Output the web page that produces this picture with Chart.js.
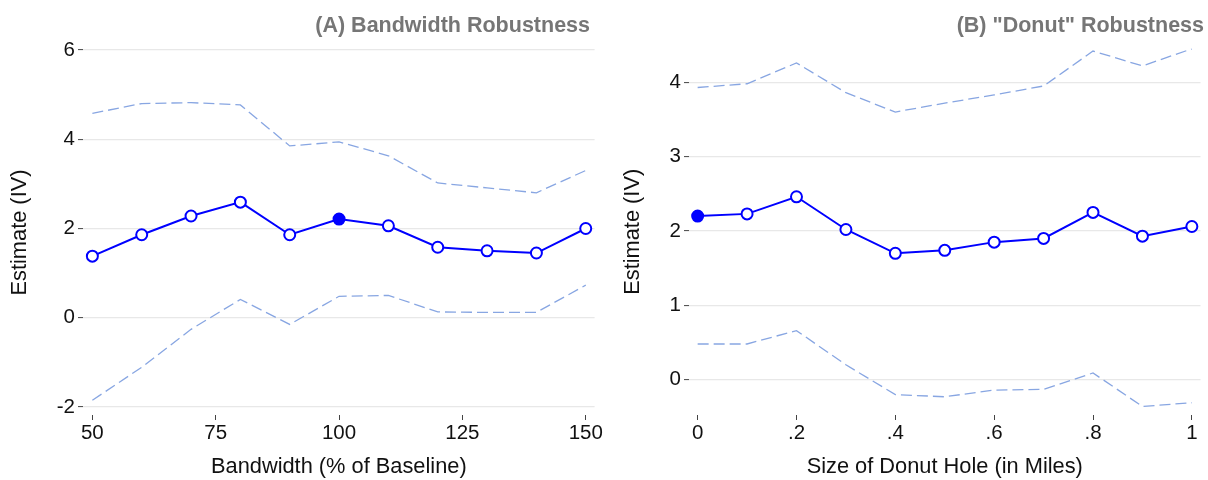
<!DOCTYPE html>
<html>
<head>
<meta charset="utf-8">
<script src="https://cdn.jsdelivr.net/npm/chart.js@4.4.1/dist/chart.umd.min.js"></script>
<style>
  html, body { margin: 0; padding: 0; background: #fff; }
  #wrap { position: relative; width: 1208px; height: 480px; }
  .panel { position: absolute; top: 0; width: 604px; height: 480px; }
  #left { left: 0; }
  #right { left: 604px; }
</style>
</head>
<body>
<div id="wrap">
  <div class="panel" id="left"><canvas id="bw-chart"></canvas></div>
  <div class="panel" id="right"><canvas id="donut-chart"></canvas></div>
</div>
<script>
// Panel A: bandwidth as % of baseline
var bandwidths = [50, 60, 70, 80, 90, 100, 110, 120, 130, 140, 150];
var bwEstimate = [1.38, 1.86, 2.28, 2.59, 1.86, 2.21, 2.06, 1.58, 1.50, 1.45, 2.00];
var bwUpper = [4.58, 4.80, 4.82, 4.77, 3.85, 3.94, 3.63, 3.02, 2.91, 2.80, 3.30];
var bwLower = [-1.85, -1.11, -0.26, 0.41, -0.15, 0.48, 0.50, 0.13, 0.12, 0.12, 0.73];
var bwXTicks = [50, 75, 100, 125, 150];
var bwYTicks = [-2, 0, 2, 4, 6];
var bwBaseline = 100;

// Panel B: donut hole size (miles)
var donutSizes = [0, 0.1, 0.2, 0.3, 0.4, 0.5, 0.6, 0.7, 0.8, 0.9, 1];
var donutEstimate = [2.20, 2.23, 2.46, 2.02, 1.70, 1.74, 1.85, 1.90, 2.25, 1.93, 2.06];
var donutUpper = [3.93, 3.98, 4.26, 3.86, 3.60, 3.72, 3.83, 3.95, 4.42, 4.22, 4.45];
var donutLower = [0.48, 0.48, 0.66, 0.20, -0.20, -0.23, -0.14, -0.13, 0.09, -0.36, -0.31];
var donutXTicks = [0, 0.2, 0.4, 0.6, 0.8, 1];
var donutXLabels = ['0', '.2', '.4', '.6', '.8', '1'];
var donutYTicks = [0, 1, 2, 3, 4];
var donutBaseline = 0;

var FONT = '"Liberation Sans", Arial, sans-serif';
var BLUE = '#0000ff';
var CI_BLUE = '#88a6e2';

var panelTitle = {
    id: 'panelTitle',
    afterDraw: function (chart, args, opts) {
        var c = chart.ctx;
        c.save();
        c.font = 'bold 21.5px ' + FONT;
        c.fillStyle = '#767676';
        c.textAlign = 'right';
        c.textBaseline = 'middle';
        c.fillText(opts.text, chart.width - opts.inset, 26);
        c.restore();
    }
};

function pairs(xs, ys) {
    return xs.map(function (x, i) { return { x: x, y: ys[i] }; });
}

function makePanel(id, p) {
    var ctx = document.getElementById(id).getContext('2d');
    return new Chart(ctx, {
        type: 'line',
        data: {
            datasets: [{
                data: pairs(p.xs, p.est),
                borderColor: BLUE,
                borderWidth: 2,
                pointRadius: 5.5,
                pointBorderWidth: 2,
                pointBorderColor: BLUE,
                pointBackgroundColor: function (c) {
                    return c.raw && c.raw.x === p.baseline ? BLUE : '#ffffff';
                }
            }, {
                data: pairs(p.xs, p.upper),
                borderColor: CI_BLUE,
                borderWidth: 1.3,
                borderDash: [11, 5],
                pointRadius: 0
            }, {
                data: pairs(p.xs, p.lower),
                borderColor: CI_BLUE,
                borderWidth: 1.3,
                borderDash: [11, 5],
                pointRadius: 0
            }]
        },
        options: {
            responsive: true,
            maintainAspectRatio: false,
            animation: false,
            layout: { padding: { top: p.top, right: p.right, left: 0, bottom: 0 } },
            plugins: {
                legend: { display: false },
                tooltip: { enabled: false },
                panelTitle: { text: p.title, inset: p.titleInset }
            },
            scales: {
                x: {
                    type: 'linear',
                    min: p.xMin,
                    max: p.xMax,
                    afterBuildTicks: function (s) {
                        s.ticks = p.xTicks.map(function (v) { return { value: v }; });
                    },
                    afterFit: function (s) { s.height = 65; },
                    grid: {
                        drawOnChartArea: false,
                        tickLength: 5,
                        tickColor: '#444',
                        tickWidth: 1
                    },
                    border: { display: false },
                    ticks: {
                        padding: 1,
                        color: '#111',
                        font: { family: FONT, size: 20.5 },
                        callback: p.xLabel
                    },
                    title: {
                        display: true,
                        text: p.xTitle,
                        color: '#111',
                        font: { family: FONT, size: 21.8 },
                        padding: { top: 0, bottom: 0 }
                    }
                },
                y: {
                    min: p.yMin,
                    max: p.yMax,
                    afterBuildTicks: function (s) {
                        s.ticks = p.yTicks.map(function (v) { return { value: v }; });
                    },
                    afterFit: function (s) { s.width = p.yWidth; },
                    grid: {
                        color: '#e8e8e8',
                        lineWidth: 1.2,
                        tickLength: 5,
                        tickColor: '#444',
                        tickWidth: 1
                    },
                    border: { display: false },
                    ticks: {
                        padding: 3,
                        color: '#111',
                        font: { family: FONT, size: 20.5 }
                    },
                    title: {
                        display: true,
                        text: 'Estimate (IV)',
                        color: '#111',
                        font: { family: FONT, size: 21.8 },
                        padding: { top: p.yTitlePad, bottom: 0 }
                    }
                }
            }
        },
        plugins: [panelTitle]
    });
}

makePanel('bw-chart', {
    xs: bandwidths, est: bwEstimate, upper: bwUpper, lower: bwLower,
    baseline: bwBaseline,
    xMin: 48.1, xMax: 151.8, xTicks: bwXTicks,
    xLabel: function (v) { return String(v); },
    yMin: -2.18, yMax: 6, yTicks: bwYTicks,
    xTitle: 'Bandwidth (% of Baseline)',
    title: '(A) Bandwidth Robustness', titleInset: 14,
    top: 50, right: 9, yWidth: 83, yTitlePad: 7
});

makePanel('donut-chart', {
    xs: donutSizes, est: donutEstimate, upper: donutUpper, lower: donutLower,
    baseline: donutBaseline,
    xMin: -0.0175, xMax: 1.0175, xTicks: donutXTicks,
    xLabel: function (v) {
        var i = donutXTicks.indexOf(v);
        return i >= 0 ? donutXLabels[i] : '';
    },
    yMin: -0.475, yMax: 4.453, yTicks: donutYTicks,
    xTitle: 'Size of Donut Hole (in Miles)',
    title: '(B) "Donut" Robustness', titleInset: 4,
    top: 48.6, right: 0, yWidth: 85, yTitlePad: 16
});
</script>
</body>
</html>
